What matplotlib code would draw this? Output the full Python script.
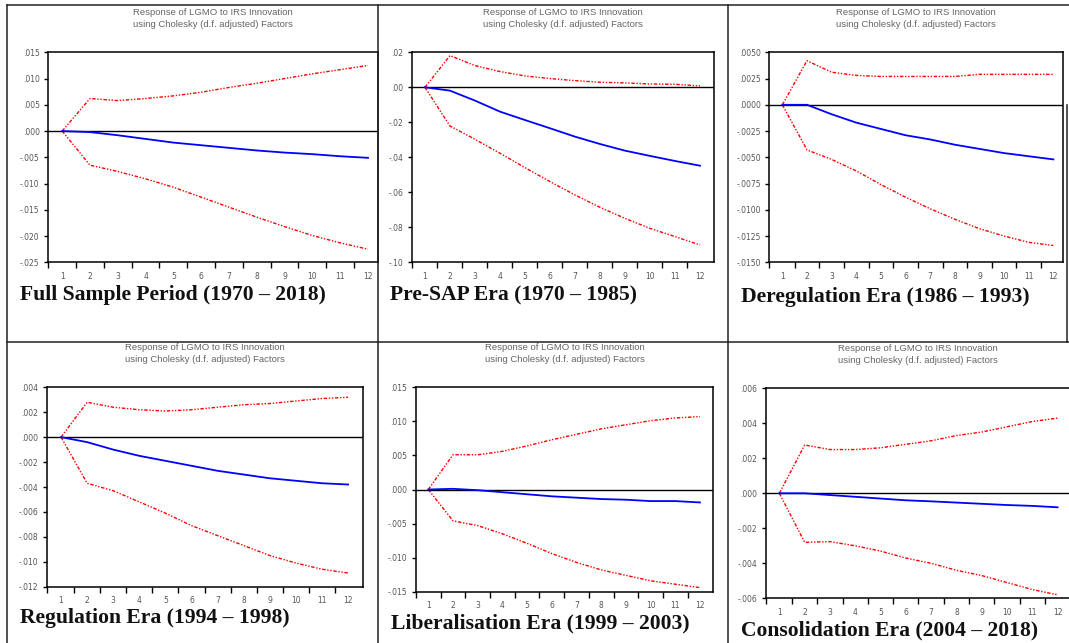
import matplotlib
matplotlib.use("Agg")
import matplotlib.pyplot as plt
from matplotlib.lines import Line2D

# horizon (periods after the shock)
periods = list(range(1, 13))

# Full sample period (1970 - 2018)
full_resp = [0.0, -0.0002, -0.0008, -0.0015, -0.0022, -0.0027, -0.0032, -0.0037, -0.0041, -0.0044, -0.0048, -0.0051]
full_upper = [0.0, 0.0062, 0.0058, 0.0062, 0.0067, 0.0074, 0.0083, 0.0091, 0.0100, 0.0109, 0.0117, 0.0125]
full_lower = [0.0, -0.0065, -0.0077, -0.0091, -0.0107, -0.0126, -0.0145, -0.0164, -0.0182, -0.0199, -0.0213, -0.0225]

# Pre-SAP era (1970 - 1985)
presap_resp = [0.0, -0.0019, -0.0076, -0.0139, -0.0187, -0.0234, -0.0282, -0.0324, -0.0362, -0.0392, -0.0421, -0.0448]
presap_upper = [0.0, 0.0181, 0.0124, 0.0090, 0.0065, 0.0050, 0.0038, 0.0029, 0.0025, 0.0019, 0.0017, 0.0008]
presap_lower = [0.0, -0.0221, -0.0297, -0.0377, -0.0459, -0.0539, -0.0615, -0.0686, -0.0749, -0.0806, -0.0853, -0.0901]

# Deregulation era (1986 - 1993)
dereg_resp = [0.0, 0.0, -0.0009, -0.0017, -0.0023, -0.0029, -0.0033, -0.0038, -0.0042, -0.0046, -0.0049, -0.0052]
dereg_upper = [0.0, 0.0042, 0.0031, 0.0028, 0.0027, 0.0027, 0.0027, 0.0027, 0.0029, 0.0029, 0.0029, 0.0029]
dereg_lower = [0.0, -0.0043, -0.0052, -0.0063, -0.0076, -0.0088, -0.0099, -0.0109, -0.0118, -0.0125, -0.0131, -0.0134]

# Regulation era (1994 - 1998)
reg_resp = [0.0, -0.0004, -0.0010, -0.0015, -0.0019, -0.0023, -0.0027, -0.0030, -0.0033, -0.0035, -0.0037, -0.0038]
reg_upper = [0.0, 0.0028, 0.0024, 0.0022, 0.0021, 0.0022, 0.0024, 0.0026, 0.0027, 0.0029, 0.0031, 0.0032]
reg_lower = [0.0, -0.0037, -0.0043, -0.0052, -0.0061, -0.0071, -0.0079, -0.0087, -0.0095, -0.0101, -0.0106, -0.0109]

# Liberalisation era (1999 - 2003)
lib_resp = [0.0, 0.0001, -0.0001, -0.0004, -0.0007, -0.0010, -0.0012, -0.0014, -0.0015, -0.0017, -0.0017, -0.0019]
lib_upper = [0.0, 0.0051, 0.0051, 0.0056, 0.0064, 0.0073, 0.0081, 0.0089, 0.0095, 0.0101, 0.0105, 0.0107]
lib_lower = [0.0, -0.0046, -0.0053, -0.0065, -0.0079, -0.0094, -0.0107, -0.0118, -0.0126, -0.0134, -0.0139, -0.0144]

# Consolidation era (2004 - 2018)
cons_resp = [0.0, 0.0, -0.0001, -0.0002, -0.0003, -0.0004, -0.00046, -0.00053, -0.0006, -0.00067, -0.00072, -0.0008]
cons_upper = [0.0, 0.00276, 0.0025, 0.0025, 0.0026, 0.0028, 0.0030, 0.0033, 0.0035, 0.0038, 0.0041, 0.0043]
cons_lower = [0.0, -0.0028, -0.00276, -0.0030, -0.0033, -0.0037, -0.0040, -0.0044, -0.0047, -0.0051, -0.0055, -0.0058]

# y tick values and their labels as printed
full_yticks = [0.015, 0.010, 0.005, 0.0, -0.005, -0.010, -0.015, -0.020, -0.025]
full_ylabels = [".015", ".010", ".005", ".000", "-.005", "-.010", "-.015", "-.020", "-.025"]
presap_yticks = [0.02, 0.0, -0.02, -0.04, -0.06, -0.08, -0.10]
presap_ylabels = [".02", ".00", "-.02", "-.04", "-.06", "-.08", "-.10"]
dereg_yticks = [0.005, 0.0025, 0.0, -0.0025, -0.005, -0.0075, -0.010, -0.0125, -0.015]
dereg_ylabels = [".0050", ".0025", ".0000", "-.0025", "-.0050", "-.0075", "-.0100", "-.0125", "-.0150"]
reg_yticks = [0.004, 0.002, 0.0, -0.002, -0.004, -0.006, -0.008, -0.010, -0.012]
reg_ylabels = [".004", ".002", ".000", "-.002", "-.004", "-.006", "-.008", "-.010", "-.012"]
lib_yticks = [0.015, 0.010, 0.005, 0.0, -0.005, -0.010, -0.015]
lib_ylabels = [".015", ".010", ".005", ".000", "-.005", "-.010", "-.015"]
cons_yticks = [0.006, 0.004, 0.002, 0.0, -0.002, -0.004, -0.006]
cons_ylabels = [".006", ".004", ".002", ".000", "-.002", "-.004", "-.006"]

captions = [
    "Full Sample Period (1970 \u2013 2018)",
    "Pre-SAP Era (1970 \u2013 1985)",
    "Deregulation Era (1986 \u2013 1993)",
    "Regulation Era (1994 \u2013 1998)",
    "Liberalisation Era (1999 \u2013 2003)",
    "Consolidation Era (2004 \u2013 2018)",
]
title = "Response of LGMO to IRS Innovation\nusing Cholesky (d.f. adjusted) Factors"

panels = [
    (full_resp, full_upper, full_lower, full_yticks, full_ylabels),
    (presap_resp, presap_upper, presap_lower, presap_yticks, presap_ylabels),
    (dereg_resp, dereg_upper, dereg_lower, dereg_yticks, dereg_ylabels),
    (reg_resp, reg_upper, reg_lower, reg_yticks, reg_ylabels),
    (lib_resp, lib_upper, lib_lower, lib_yticks, lib_ylabels),
    (cons_resp, cons_upper, cons_lower, cons_yticks, cons_ylabels),
]

# layout in pixels: axes box (left, top, right, bottom), x limits, caption (x, baseline)
W, H = 1069, 643
layout = [
    ((48, 52.3, 378, 262.3), (0.49, 12.36), (20, 300)),
    ((411.7, 52.3, 714, 262.3), (0.47, 12.56), (390, 300)),
    ((769.3, 52.3, 1063, 262.3), (0.47, 12.39), (741, 302)),
    ((46.7, 387.3, 363, 586.7), (0.45, 12.57), (20, 623)),
    ((415.7, 387.3, 713.3, 591.7), (0.49, 12.54), (391, 628)),
    ((765.7, 388.3, 1071, 598.3), (0.46, 12.53), (741, 635)),
]

red_style = (0, (2.5, 1.2, 1, 1.2, 1, 1.2))

fig = plt.figure(figsize=(W / 100, H / 100), dpi=100)


def fx(x):
    return x / W


def fy(y):
    return 1 - y / H


for i, (resp, upper, lower, yticks, ylabels) in enumerate(panels):
    (l, t, r, b), xlim, cap = layout[i]
    ax = fig.add_axes([fx(l), fy(b), (r - l) / W, (b - t) / H])
    ax.plot(periods, upper, color="red", lw=1.0, linestyle=red_style)
    ax.plot(periods, lower, color="red", lw=1.0, linestyle=red_style)
    ax.axhline(0, color="black", lw=1.0)
    ax.plot(periods, resp, color="blue", lw=1.3)

    ax.set_xlim(*xlim)
    ax.set_ylim(yticks[-1], yticks[0])
    ax.set_yticks(yticks)
    ax.set_yticklabels(ylabels)
    ax.set_xticks(periods)
    ax.set_xticklabels([str(p) for p in periods])
    ax.set_xticks([p + 0.5 for p in periods[:-1]] + [xlim[0]], minor=True)
    ax.tick_params(axis="x", which="major", length=0, pad=7, labelsize=5.5, labelcolor="#555555")
    ax.tick_params(axis="x", which="minor", length=4, width=1.0, direction="out")
    ax.tick_params(axis="y", length=3, width=1.0, direction="out", pad=3,
                   labelsize=5.5, labelcolor="#555555")
    for s in ax.spines.values():
        s.set_linewidth(1.1)

    fig.text(fx((l + r) / 2), fy(t - 23), title, ha="center", va="bottom",
             fontsize=6.8, color="#666666", family="Liberation Sans", linespacing=1.45)
    fig.text(fx(cap[0]), fy(cap[1]), captions[i], ha="left", va="baseline",
             fontsize=15.6, fontweight="bold", family="Liberation Serif", color="#111111")

# table borders
border = dict(color="#222222", lw=1.1, transform=fig.transFigure)
for x in (7.3, 377.7, 727.5):
    fig.add_artist(Line2D([fx(x), fx(x)], [fy(5), 0], **border))
for y in (5, 342):
    fig.add_artist(Line2D([fx(7.3), 1], [fy(y), fy(y)], **border))
fig.add_artist(Line2D([fx(1067), fx(1067)], [fy(105), fy(342)], **border))

fig.savefig("out.png", dpi=100, facecolor="white")
